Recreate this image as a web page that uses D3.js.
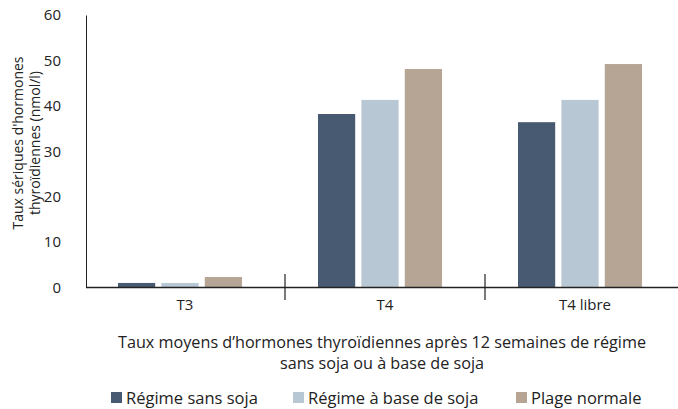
<!DOCTYPE html>
<html><head><meta charset="utf-8">
<script src="https://cdn.jsdelivr.net/npm/d3@7/dist/d3.min.js"></script>
<style>
html,body{margin:0;padding:0;background:#fff;}
text{font-family:"Open Sans",sans-serif;fill:#222;}
</style></head>
<body><svg id="c" width="678" height="409"></svg>
<script>
const categories = ["T3", "T4", "T4 libre"];
const seriesNames = ["Régime sans soja", "Régime à base de soja", "Plage normale"];
const sansSoja = [1.0, 38.2, 36.4];
const baseSoja = [1.0, 41.3, 41.3];
const plageNormale = [2.3, 48.1, 49.2];
const yTicks = [0, 10, 20, 30, 40, 50, 60];
const colors = ["#485a71", "#b7c7d4", "#b6a495"];
const yTitle = ["Taux sériques d'hormones", "thyroïdiennes (nmol/l)"];
const xTitle = ["Taux moyens d’hormones thyroïdiennes après 12 semaines de régime", "sans soja ou à base de soja"];

const values = [sansSoja, baseSoja, plageNormale];
const svg = d3.select("#c");

const x = d3.scaleBand().domain(categories).range([85, 685]).padding(0);
const xs = d3.scaleBand().domain(d3.range(3)).range([33, 157]).paddingInner(0.143).paddingOuter(0);
const y = d3.scaleLinear().domain([0, 60]).range([287.5, 15]);

// bars
categories.forEach((c, i) => {
  values.forEach((vals, s) => {
    svg.append("rect")
      .attr("x", x(c) + xs(s))
      .attr("width", xs.bandwidth())
      .attr("y", y(vals[i]))
      .attr("height", y(0) - y(vals[i]))
      .attr("fill", colors[s]);
  });
});

// y axis
const yAxis = svg.append("g").attr("transform", "translate(86,0)")
  .call(d3.axisLeft(y).tickValues(yTicks).tickSize(0).tickPadding(25).tickFormat(d3.format("d")));
yAxis.select(".domain").attr("stroke", "#222").attr("stroke-width", 1);
yAxis.selectAll("text").style("font-size", "15px").attr("fill", "#222").style("font-family", "Open Sans");

// x axis
const xAxis = svg.append("g").attr("transform", "translate(0,287.5)")
  .call(d3.axisBottom(x).tickSize(0).tickPadding(12));
xAxis.select(".domain").attr("d", "M86,0H678").attr("stroke", "#222").attr("stroke-width", 1.3);
xAxis.selectAll("text").style("font-size", "15px").attr("fill", "#222").style("font-family", "Open Sans");

// separators
categories.slice(1).forEach(c => {
  svg.append("line").attr("x1", x(c)).attr("x2", x(c))
    .attr("y1", 274).attr("y2", 300).attr("stroke", "#222").attr("stroke-width", 1.2);
});

// y title
const yt = svg.append("text").attr("transform", "translate(0,143) rotate(-90)")
  .attr("text-anchor", "middle").style("font-size", "14px");
yt.append("tspan").attr("x", 0).attr("y", 23).text(yTitle[0]);
yt.append("tspan").attr("x", 0).attr("y", 40).text(yTitle[1]);

// x title
xTitle.forEach((t, i) => {
  svg.append("text").attr("x", 382).attr("y", 348 + i * 21)
    .attr("text-anchor", "middle").style("font-size", "16.2px").text(t);
});

// legend
const legX = [111, 293, 516];
seriesNames.forEach((n, i) => {
  svg.append("rect").attr("x", legX[i]).attr("y", 392).attr("width", 11).attr("height", 11).attr("fill", colors[i]);
  svg.append("text").attr("x", legX[i] + 15).attr("y", 404).style("font-size", "16.5px").text(n);
});
</script></body></html>
